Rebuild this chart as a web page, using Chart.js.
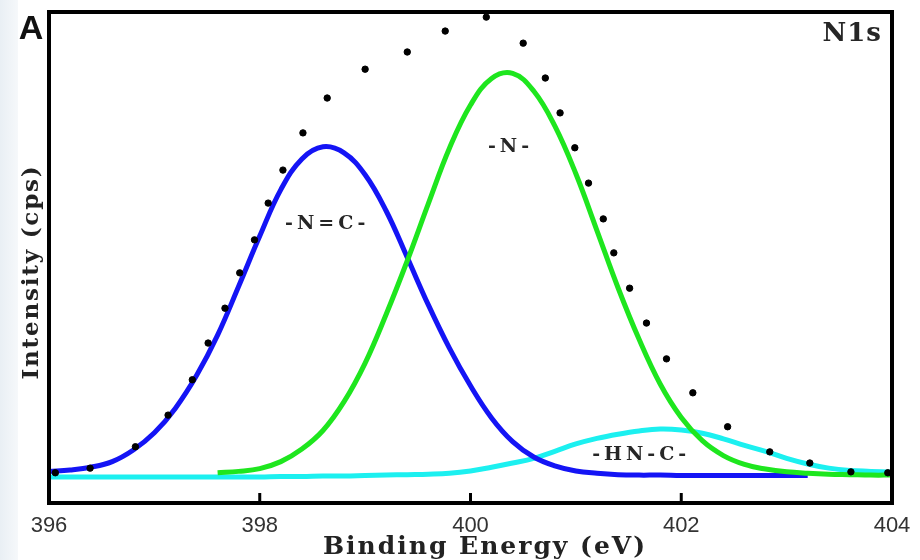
<!DOCTYPE html>
<html>
<head>
<meta charset="utf-8">
<title>N1s XPS</title>
<script src="https://cdn.jsdelivr.net/npm/chart.js@4"></script>
<style>
  html, body { margin: 0; padding: 0; background: #fff; }
  #wrap { width: 920px; height: 560px; }
</style>
</head>
<body>
<div id="wrap"><canvas id="xpsChart" width="920" height="560"></canvas></div>
<script>
// ===== Data =====
const energy = [396.0, 396.2, 396.4, 396.6, 396.8, 397.0, 397.2, 397.4, 397.6, 397.8,
  398.0, 398.2, 398.4, 398.6, 398.8, 399.0, 399.2, 399.4, 399.6, 399.8,
  400.0, 400.2, 400.4, 400.6, 400.8, 401.0, 401.2, 401.4, 401.6, 401.8,
  402.0, 402.2, 402.4, 402.6, 402.8, 403.0, 403.2, 403.4, 403.6, 403.8, 404.0];

// -N=C- component (blue)
const peakNC = [0.012, 0.015, 0.021, 0.033, 0.058, 0.095, 0.148, 0.218, 0.305, 0.410,
  0.518, 0.618, 0.684, 0.710, 0.697, 0.650, 0.572, 0.472, 0.370, 0.277,
  0.196, 0.127, 0.076, 0.043, 0.024, 0.013, 0.008, 0.005, 0.004, 0.004,
  0.003, 0.003, 0.003, 0.003, 0.003, 0.003, 0.003, null, null, null, null];

// -N- component (green)
const peakN = [null, null, null, null, null, null, null, null, 0.009, 0.012,
  0.018, 0.033, 0.060, 0.100, 0.162, 0.245, 0.350, 0.465, 0.588, 0.707,
  0.800, 0.857, 0.868, 0.830, 0.755, 0.652, 0.530, 0.407, 0.296, 0.200,
  0.128, 0.078, 0.046, 0.027, 0.017, 0.011, 0.008, 0.006, 0.005, 0.004, 0.004];

// -HN-C- component (cyan)
const peakHNC = [0.000, 0.000, 0.000, 0.000, 0.000, 0.000, 0.000, 0.000, 0.000, 0.000,
  0.000, 0.001, 0.001, 0.002, 0.002, 0.003, 0.004, 0.005, 0.006, 0.008,
  0.013, 0.021, 0.030, 0.040, 0.055, 0.071, 0.083, 0.092, 0.099, 0.103,
  0.101, 0.094, 0.082, 0.068, 0.055, 0.040, 0.028, 0.019, 0.014, 0.012, 0.010];

// measured envelope (black dots)
const measE = [396.06, 396.39, 396.82, 397.13, 397.36, 397.51, 397.67, 397.81, 397.95, 398.08,
  398.22, 398.41, 398.64, 399.00, 399.40, 399.76, 400.15, 400.50, 400.71, 400.85,
  400.99, 401.12, 401.26, 401.36, 401.51, 401.67, 401.86, 402.11, 402.44, 402.84,
  403.22, 403.61, 403.96];
const measI = [0.009, 0.019, 0.065, 0.133, 0.209, 0.288, 0.363, 0.439, 0.510, 0.589,
  0.660, 0.740, 0.815, 0.877, 0.914, 0.959, 0.989, 0.933, 0.858, 0.783,
  0.708, 0.632, 0.555, 0.482, 0.406, 0.331, 0.254, 0.181, 0.108, 0.054,
  0.030, 0.011, 0.009];

const xTicks = [396, 398, 400, 402, 404];
const peakNames = ['-N=C-', '-N-', '-HN-C-'];
const xTitle = 'Binding Energy (eV)';
const yTitle = 'Intensity (cps)';

// where the peak names sit, in data units
const nameSpots = [[398.64, 0.544], [400.38, 0.710], [401.62, 0.047]];

const toXY = (xs, ys) => xs.map((x, i) => ({ x: x, y: ys[i] }));

const serif = "'DejaVu Serif', 'Liberation Serif', serif";

// ===== frame, inner ticks, titles and labels =====
const decor = {
  id: 'decor',
  beforeDraw(chart) {
    const c = chart.ctx;
    c.save();
    c.fillStyle = '#fff';
    c.fillRect(0, 0, chart.width, chart.height);
    const g = c.createLinearGradient(0, 0, 20, 0);
    g.addColorStop(0, '#e9eff4');
    g.addColorStop(1, '#f7f9fb');
    c.fillStyle = g;
    c.fillRect(0, 0, 18, chart.height);
    c.restore();
  },
  afterDraw(chart) {
    const c = chart.ctx;
    const a = chart.chartArea;
    const xs = chart.scales.x, ys = chart.scales.y;
    c.save();
    c.strokeStyle = '#000';
    c.lineWidth = 4;
    c.strokeRect(a.left, a.top, a.right - a.left, a.bottom - a.top);
    c.lineWidth = 3;
    xTicks.slice(1, -1).forEach(t => {
      const px = xs.getPixelForValue(t);
      c.beginPath();
      c.moveTo(px, a.bottom);
      c.lineTo(px, a.bottom - 10);
      c.stroke();
    });

    c.fillStyle = '#262626';
    c.textAlign = 'center';
    c.textBaseline = 'middle';
    c.font = 'bold 19px ' + serif;
    c.letterSpacing = '4px';
    peakNames.forEach((name, i) => {
      c.fillText(name, xs.getPixelForValue(nameSpots[i][0]), ys.getPixelForValue(nameSpots[i][1]));
    });
    c.letterSpacing = '1px';
    c.textAlign = 'right';
    c.font = 'bold 26px ' + serif;
    c.fillText('N1s', a.right - 10, a.top + 22);

    // axis titles (spaced out like the original)
    c.fillStyle = '#222';
    c.textAlign = 'center';
    c.letterSpacing = '2px';
    c.font = 'bold 25px ' + serif;
    c.fillText(xTitle, 485, 547);
    c.save();
    c.translate(32, 272);
    c.rotate(-Math.PI / 2);
    c.letterSpacing = '1.8px';
    c.font = 'bold 23px ' + serif;
    c.fillText(yTitle, 0, 0);
    c.restore();

    c.letterSpacing = '0px';
    c.fillStyle = '#111';
    c.font = "bold 34px 'Liberation Sans', Arial, sans-serif";
    c.fillText('A', 31, 30);
    c.restore();
  }
};

const ctx = document.getElementById('xpsChart').getContext('2d');
const xpsChart = new Chart(ctx, {
  type: 'line',
  data: {
    datasets: [{
      label: 'measured',
      type: 'scatter',
      data: toXY(measE, measI),
      backgroundColor: '#000',
      borderColor: '#000',
      pointRadius: 3.2,
      order: 0
    }, {
      label: '-N-',
      data: toXY(energy, peakN),
      borderColor: '#1ee61e',
      borderWidth: 5,
      pointRadius: 0,
      tension: 0.4,
      order: 1
    }, {
      label: '-N=C-',
      data: toXY(energy, peakNC),
      borderColor: '#1414f5',
      borderWidth: 5,
      pointRadius: 0,
      tension: 0.4,
      order: 2
    }, {
      label: '-HN-C-',
      data: toXY(energy, peakHNC),
      borderColor: '#1cf0f0',
      borderWidth: 5,
      pointRadius: 0,
      tension: 0.4,
      order: 3
    }]
  },
  options: {
    responsive: false,
    animation: false,
    layout: { padding: { top: 12, right: 28, left: 0, bottom: 0 } },
    plugins: { legend: { display: false }, tooltip: { enabled: false } },
    scales: {
      x: {
        type: 'linear',
        min: 396,
        max: 404,
        afterBuildTicks: s => { s.ticks = xTicks.map(v => ({ value: v })); },
        afterFit: s => { s.height = 57; },
        grid: { display: false },
        border: { display: false },
        ticks: {
          color: '#333',
          padding: 4,
          font: { family: "'Liberation Sans', Arial, sans-serif", size: 22, lineHeight: 1 }
        }
      },
      y: {
        min: -0.056,
        max: 1.0,
        afterFit: s => { s.width = 49; },
        grid: { display: false },
        border: { display: false },
        ticks: { display: false }
      }
    }
  },
  plugins: [decor]
});
</script>
</body>
</html>
